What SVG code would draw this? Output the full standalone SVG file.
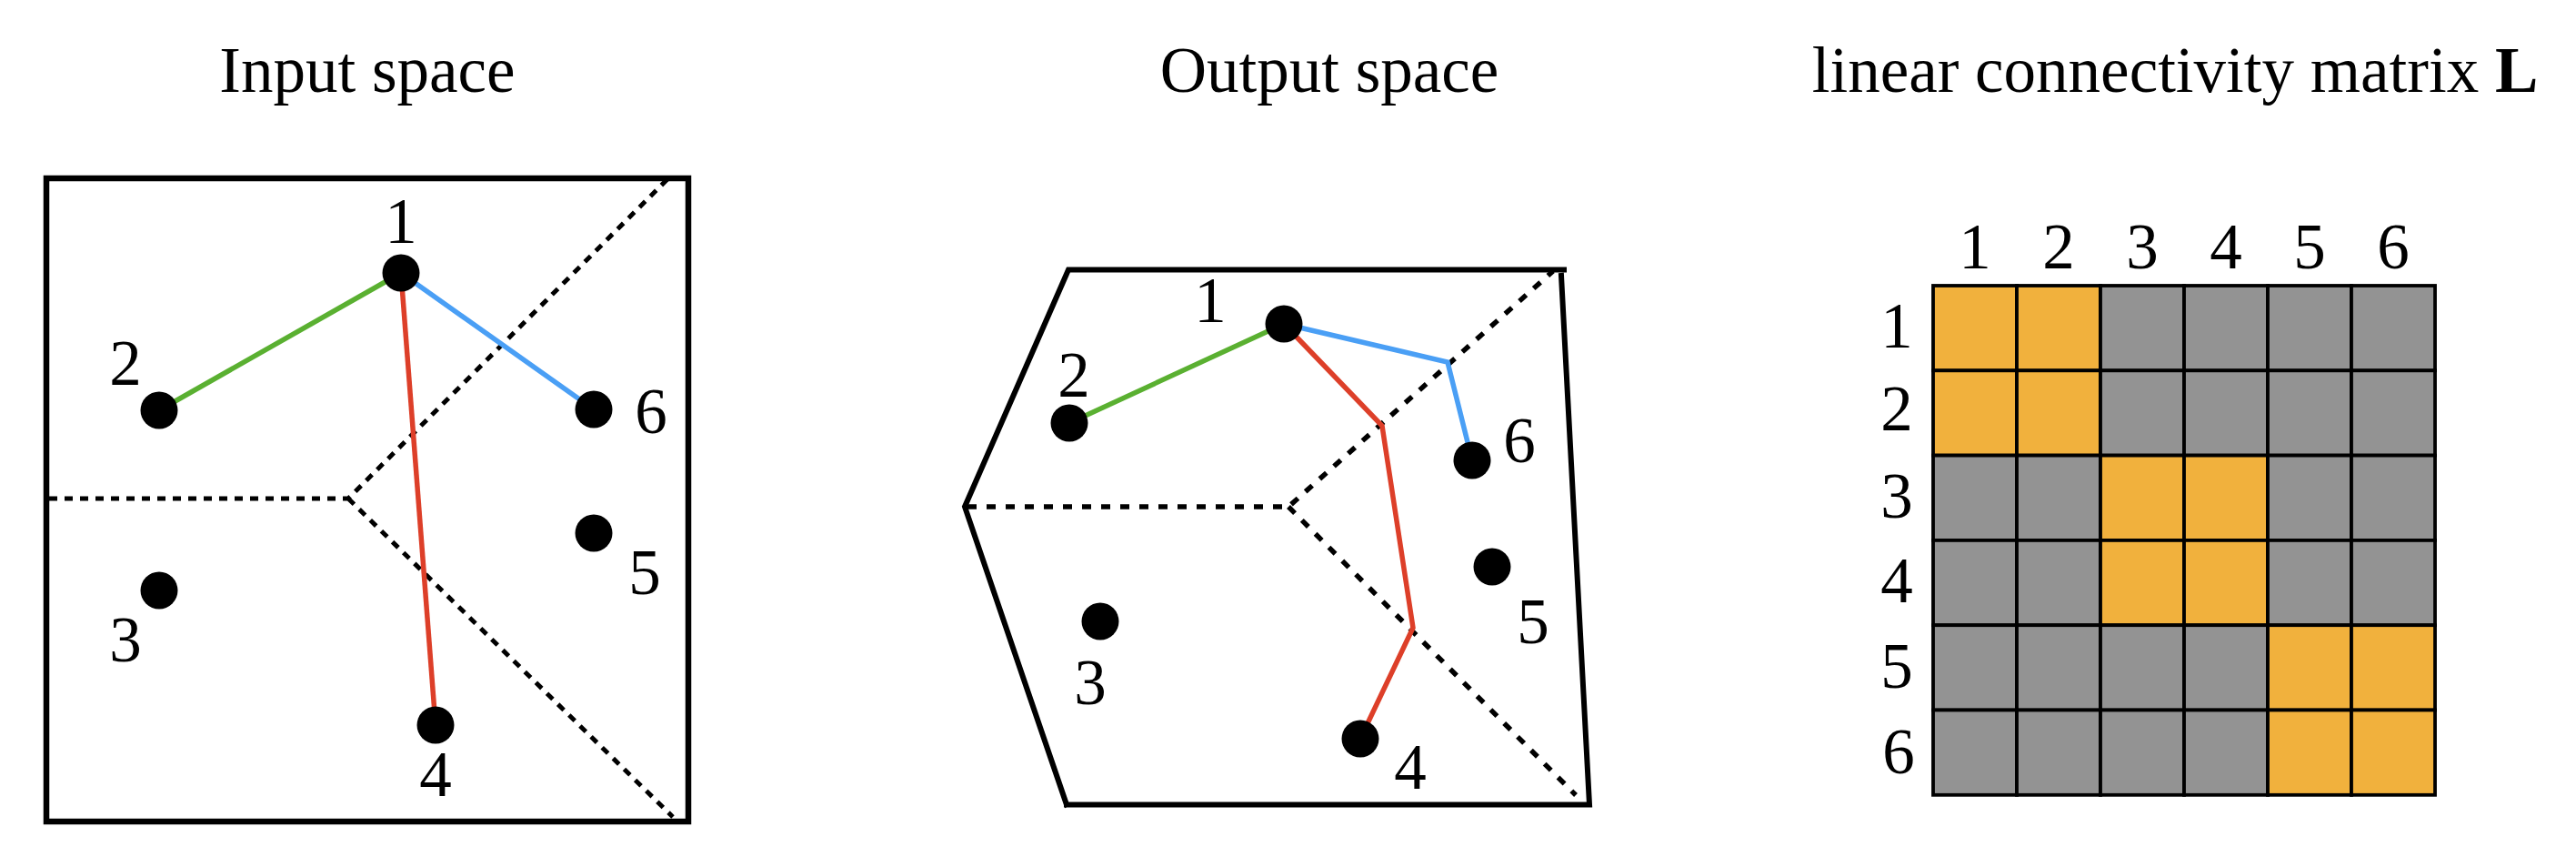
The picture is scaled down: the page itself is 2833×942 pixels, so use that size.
<svg xmlns="http://www.w3.org/2000/svg" width="2833" height="942" viewBox="0 0 2833 942">
<style>
text{font-family:"Liberation Serif","Times New Roman",serif;fill:#000}
.t{font-size:71px;text-anchor:middle}
.n{font-size:71px;text-anchor:middle}
.dot{fill:#000}
.frame{fill:none;stroke:#000;stroke-width:6.5;stroke-linejoin:miter}
.frame2{fill:none;stroke:#000;stroke-width:6;stroke-linecap:square}
.dash1{fill:none;stroke:#000;stroke-width:5;stroke-dasharray:9 8}
.dash2{fill:none;stroke:#000;stroke-width:5.5;stroke-dasharray:10 11}
.g{stroke:#5AB031}.b{stroke:#4A9FF5}.r{stroke:#DD3F29}
.e{fill:none;stroke-width:5.5;stroke-linejoin:miter}
.o{fill:#F1B13D;stroke:#000;stroke-width:3.8}
.k{fill:#939393;stroke:#000;stroke-width:3.8}
</style>

<!-- Titles -->
<text class="t" x="404" y="101">Input space</text>
<text class="t" x="1462" y="101">Output space</text>
<text class="t" x="2392" y="101">linear connectivity matrix <tspan font-weight="bold">L</tspan></text>

<!-- Input space frame and partitions -->
<rect class="frame" x="51" y="196" width="706" height="707"/>
<path class="dash1" d="M54 548 H383 L738 193 M383 548 L740 898"/>

<!-- Output space frame and partitions -->
<path class="frame2" d="M1173 884.5 L1061 557 L1175 296.5 H1720 M1717 303 L1748 884.5 H1173"/>
<path class="dash2" d="M1064 557 H1417 L1708 298 M1417 557 L1733 874"/>

<!-- Connectors -->
<g id="connectors">
  <line class="e g" x1="175" y1="451" x2="441" y2="300"/>
  <line class="e b" x1="441" y1="300" x2="653" y2="450"/>
  <line class="e r" x1="441" y1="300" x2="479" y2="797"/>
  <polyline class="e g" points="1176,465 1412,356"/>
  <polyline class="e b" points="1412,356 1592,398 1619,506"/>
  <polyline class="e r" points="1412,356 1520,468 1554,690 1496,812"/>
</g>

<!-- Input space nodes -->
<g id="in-1"><circle class="dot" cx="441" cy="300" r="20.5"/><text class="n" x="441" y="267">1</text></g>
<g id="in-2"><circle class="dot" cx="175" cy="451" r="20.5"/><text class="n" x="138" y="423">2</text></g>
<g id="in-3"><circle class="dot" cx="175" cy="649" r="20.5"/><text class="n" x="138" y="727">3</text></g>
<g id="in-4"><circle class="dot" cx="479" cy="797" r="20.5"/><text class="n" x="479" y="875">4</text></g>
<g id="in-5"><circle class="dot" cx="653" cy="586" r="20.5"/><text class="n" x="709" y="653">5</text></g>
<g id="in-6"><circle class="dot" cx="653" cy="450" r="20.5"/><text class="n" x="716" y="476">6</text></g>

<!-- Output space nodes -->
<g id="out-1"><circle class="dot" cx="1412" cy="356" r="20.5"/><text class="n" x="1331" y="354">1</text></g>
<g id="out-2"><circle class="dot" cx="1176" cy="465" r="20.5"/><text class="n" x="1181" y="436">2</text></g>
<g id="out-3"><circle class="dot" cx="1210" cy="683" r="20.5"/><text class="n" x="1199" y="774">3</text></g>
<g id="out-4"><circle class="dot" cx="1496" cy="812" r="20.5"/><text class="n" x="1551" y="867">4</text></g>
<g id="out-5"><circle class="dot" cx="1641" cy="623" r="20.5"/><text class="n" x="1686" y="707">5</text></g>
<g id="out-6"><circle class="dot" cx="1619" cy="506" r="20.5"/><text class="n" x="1671" y="508">6</text></g>

<!-- Matrix -->
<g id="matrix">
  <g id="matrix-cells">
    <rect class="o" x="2126" y="314" width="92" height="93.3"/>
    <rect class="o" x="2218" y="314" width="92" height="93.3"/>
    <rect class="k" x="2310" y="314" width="92" height="93.3"/>
    <rect class="k" x="2402" y="314" width="92" height="93.3"/>
    <rect class="k" x="2494" y="314" width="92" height="93.3"/>
    <rect class="k" x="2586" y="314" width="92" height="93.3"/>

    <rect class="o" x="2126" y="407.3" width="92" height="93.3"/>
    <rect class="o" x="2218" y="407.3" width="92" height="93.3"/>
    <rect class="k" x="2310" y="407.3" width="92" height="93.3"/>
    <rect class="k" x="2402" y="407.3" width="92" height="93.3"/>
    <rect class="k" x="2494" y="407.3" width="92" height="93.3"/>
    <rect class="k" x="2586" y="407.3" width="92" height="93.3"/>

    <rect class="k" x="2126" y="500.6" width="92" height="93.3"/>
    <rect class="k" x="2218" y="500.6" width="92" height="93.3"/>
    <rect class="o" x="2310" y="500.6" width="92" height="93.3"/>
    <rect class="o" x="2402" y="500.6" width="92" height="93.3"/>
    <rect class="k" x="2494" y="500.6" width="92" height="93.3"/>
    <rect class="k" x="2586" y="500.6" width="92" height="93.3"/>

    <rect class="k" x="2126" y="593.9" width="92" height="93.3"/>
    <rect class="k" x="2218" y="593.9" width="92" height="93.3"/>
    <rect class="o" x="2310" y="593.9" width="92" height="93.3"/>
    <rect class="o" x="2402" y="593.9" width="92" height="93.3"/>
    <rect class="k" x="2494" y="593.9" width="92" height="93.3"/>
    <rect class="k" x="2586" y="593.9" width="92" height="93.3"/>

    <rect class="k" x="2126" y="687.2" width="92" height="93.3"/>
    <rect class="k" x="2218" y="687.2" width="92" height="93.3"/>
    <rect class="k" x="2310" y="687.2" width="92" height="93.3"/>
    <rect class="k" x="2402" y="687.2" width="92" height="93.3"/>
    <rect class="o" x="2494" y="687.2" width="92" height="93.3"/>
    <rect class="o" x="2586" y="687.2" width="92" height="93.3"/>

    <rect class="k" x="2126" y="780.5" width="92" height="93.3"/>
    <rect class="k" x="2218" y="780.5" width="92" height="93.3"/>
    <rect class="k" x="2310" y="780.5" width="92" height="93.3"/>
    <rect class="k" x="2402" y="780.5" width="92" height="93.3"/>
    <rect class="o" x="2494" y="780.5" width="92" height="93.3"/>
    <rect class="o" x="2586" y="780.5" width="92" height="93.3"/>
  </g>
  <g id="matrix-col-labels">
    <text class="n" x="2172" y="295">1</text>
    <text class="n" x="2264" y="295">2</text>
    <text class="n" x="2356" y="295">3</text>
    <text class="n" x="2448" y="295">4</text>
    <text class="n" x="2540" y="295">5</text>
    <text class="n" x="2632" y="295">6</text>
  </g>
  <g id="matrix-row-labels">
    <text class="n" x="2086" y="382">1</text>
    <text class="n" x="2086" y="473">2</text>
    <text class="n" x="2086" y="569">3</text>
    <text class="n" x="2086" y="662">4</text>
    <text class="n" x="2086" y="756">5</text>
    <text class="n" x="2088" y="850">6</text>
  </g>
</g>
</svg>
